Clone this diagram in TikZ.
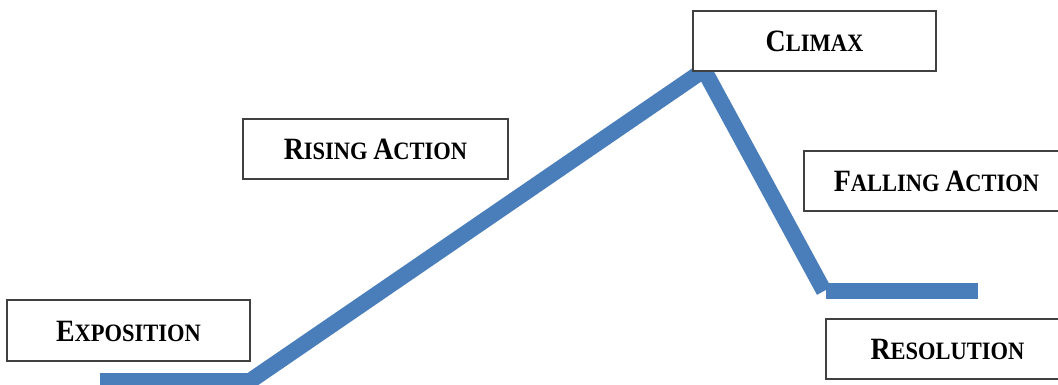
\documentclass[tikz,border=0pt]{standalone}
\usepackage{fontspec}
\setmainfont{Liberation Serif}[FakeStretch=0.9]
\newcommand\capsc[2]{{\fontsize{31}{31}\selectfont #1}{\fontsize{25}{25}\selectfont #2}}
\definecolor{plotblue}{RGB}{74,126,187}
\definecolor{boxgray}{RGB}{64,64,64}
\begin{document}
\begin{tikzpicture}[x=1pt,y=-1pt,
  plotline/.style={line width=16pt, draw=plotblue, line join=miter, line cap=butt},
  stagebox/.style={draw=boxgray, line width=1.5pt, fill=white, inner sep=0pt,
    font=\bfseries\fontsize{25}{25}\selectfont, text height=21pt, text depth=0pt, align=center}]
\useasboundingbox (0,0) rectangle (1058,384);
\clip (0,0) rectangle (1058,384);
\fill[white] (0,0) rectangle (1058,384);
% plot line vertices
\coordinate (p0) at (100,381);
\coordinate (p1) at (250,381);
\coordinate (p2) at (704,70);
\coordinate (p3) at (824,291);
\coordinate (q0) at (826,291);
\coordinate (q1) at (978,291);
\draw[plotline] (p0) -- (p1) -- (p2) -- (p3);
\draw[plotline] (q0) -- (q1);
% stage boxes
\node[stagebox, minimum width=243pt, minimum height=61pt] (expo) at (128.5,330.5) {\capsc{E}{XPOSITION}};
\node[stagebox, minimum width=265pt, minimum height=60pt] (rise) at (375.5,149) {\capsc{R}{ISING} \capsc{A}{CTION}};
\node[stagebox, minimum width=243pt, minimum height=60pt] (climax) at (814.5,41) {\capsc{C}{LIMAX}};
\node[stagebox, minimum width=265pt, minimum height=60pt] (fall) at (936.5,181) {\capsc{F}{ALLING} \capsc{A}{CTION}};
\node[stagebox, minimum width=243pt, minimum height=60pt] (reso) at (947.5,349) {\capsc{R}{ESOLUTION}};
\end{tikzpicture}
\end{document}
